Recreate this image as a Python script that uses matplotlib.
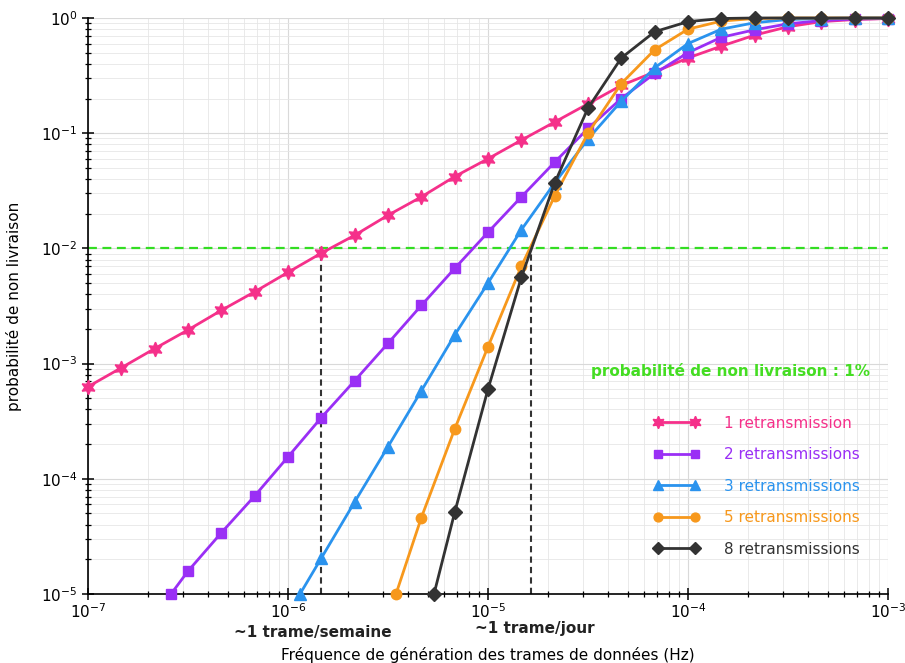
import numpy as np
import matplotlib
matplotlib.use("Agg")
import matplotlib.pyplot as plt

# x positions: 6 points per decade, from 1e-7 to 1e-3 (index k)
k_all = np.arange(25)
x_all = 10 ** (-7 + k_all / 6.0)

# series values; first point of truncated series is at the y=1e-5 boundary
pink_x = x_all
pink_y = [6.3e-4, 9.2e-4, 1.35e-3, 1.96e-3, 2.9e-3, 4.2e-3, 6.2e-3, 9.1e-3, 0.013, 0.0194,
          0.028, 0.042, 0.060, 0.087, 0.125, 0.18, 0.26, 0.34, 0.45, 0.57, 0.71, 0.84,
          0.93, 0.97, 0.99]

purple_k0 = 2.49
purple_x = np.concatenate([[10 ** (-7 + purple_k0 / 6)], x_all[3:]])
purple_y = [1e-5, 1.58e-5, 3.4e-5, 7.1e-5, 1.55e-4, 3.4e-4, 7.1e-4, 1.5e-3, 3.2e-3, 6.7e-3,
            0.0138, 0.028, 0.056, 0.11, 0.20, 0.33, 0.50, 0.68, 0.79, 0.89, 0.95, 0.98, 0.99]

blue_k0 = 6.36
blue_x = np.concatenate([[10 ** (-7 + blue_k0 / 6)], x_all[7:]])
blue_y = [1e-5, 2.05e-5, 6.3e-5, 1.9e-4, 5.8e-4, 1.77e-3, 5.0e-3, 0.0145, 0.037, 0.089,
          0.19, 0.37, 0.60, 0.80, 0.91, 0.97, 0.99, 1.0, 1.0]

orange_k0 = 9.24
orange_x = np.concatenate([[10 ** (-7 + orange_k0 / 6)], x_all[10:]])
orange_y = [1e-5, 4.6e-5, 2.7e-4, 1.4e-3, 7.0e-3, 0.0285, 0.10, 0.27, 0.53, 0.80, 0.94,
            0.99, 1.0, 1.0, 1.0, 1.0]

black_k0 = 10.38
black_x = np.concatenate([[10 ** (-7 + black_k0 / 6)], x_all[11:]])
black_y = [1e-5, 5.1e-5, 6.0e-4, 5.6e-3, 0.037, 0.165, 0.45, 0.76, 0.93, 0.99, 1.0,
           1.0, 1.0, 1.0, 1.0]

labels = ["1 retransmission", "2 retransmissions", "3 retransmissions",
          "5 retransmissions", "8 retransmissions"]
colors = ["#f5308a", "#9a2ff5", "#2a93ee", "#f7981c", "#333333"]

threshold = 0.01
week_x = 1.47e-6
day_x = 1.64e-5

fig = plt.figure(figsize=(9.05, 6.63), dpi=100)
ax = fig.add_axes([88 / 905, 1 - 594 / 663, 800 / 905, 576 / 663])
ax.set_xscale("log")
ax.set_yscale("log")
ax.set_xlim(1e-7, 1e-3)
ax.set_ylim(1e-5, 1)

ax.grid(True, which="major", color="#d9d9d9", lw=0.8)
ax.grid(True, which="minor", color="#e6e6e6", lw=0.6)
ax.set_axisbelow(True)

star = (6, 1, 0)
series = [(pink_x, pink_y, star, 10.5), (purple_x, purple_y, "s", 7.5),
          (blue_x, blue_y, "^", 9), (orange_x, orange_y, "o", 7.5),
          (black_x, black_y, "D", 7.5)]
handles = []
for (xs, ys, m, ms), c, lab in zip(series, colors, labels):
    h, = ax.plot(xs, ys, color=c, lw=2, marker=m, ms=ms, mec=c, mfc=c,
                 label=lab, clip_on=False, zorder=3)
    handles.append(h)

ax.axhline(threshold, color="#33dd22", ls=(0, (4, 2.5)), lw=1.6, zorder=2)
ax.plot([week_x, week_x], [1e-5, threshold], color="#333333", ls=(0, (3, 2)), lw=1.5, zorder=2)
ax.plot([day_x, day_x], [1e-5, threshold], color="#333333", ls=(0, (3, 2)), lw=1.5, zorder=2)

for s in ["top", "right"]:
    ax.spines[s].set_visible(False)
ax.spines["left"].set_linewidth(1.2)
ax.spines["bottom"].set_linewidth(1.2)
ax.tick_params(which="major", direction="inout", length=8, width=1.1, labelsize=11)
ax.tick_params(which="minor", direction="inout", length=5, width=0.9)
ax.tick_params(axis="x", pad=2)

fig.text(488 / 905, 1 - 655 / 663, "Fréquence de génération des trames de données (Hz)",
         ha="center", va="center", fontsize=11)
ax.set_ylabel("probabilité de non livraison", fontsize=11, labelpad=14)

fig.text(313 / 905, 1 - 632 / 663, "~1 trame/semaine",
         ha="center", va="center", fontsize=11, fontweight="bold", color="#222222")
fig.text(535 / 905, 1 - 628 / 663, "~1 trame/jour",
         ha="center", va="center", fontsize=11, fontweight="bold", color="#222222")

fig.text(730 / 905, 1 - 371 / 663, "probabilité de non livraison : 1%",
         ha="center", va="center", fontsize=11, fontweight="bold", color="#44dd22")

leg = ax.legend(handles=handles, loc="upper left", bbox_to_anchor=(640 / 905, 1 - 402 / 663),
                bbox_transform=fig.transFigure, frameon=False, numpoints=2,
                handlelength=3.0, handletextpad=1.6, labelspacing=1.08, fontsize=11,
                labelcolor=colors, markerscale=0.85)

fig.savefig("out.png", dpi=100)
